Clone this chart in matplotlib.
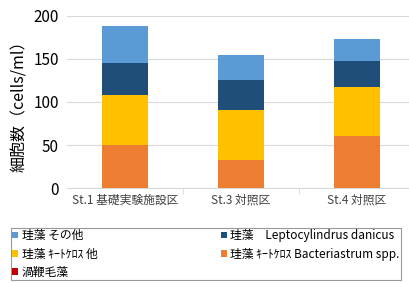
import matplotlib.pyplot as plt
import numpy as np

plt.rcParams['font.family'] = ['Noto Sans CJK JP', 'DejaVu Sans']

stations = ['St.1 基礎実験施設区', 'St.3 対照区', 'St.4 対照区']
bacteriastrum = [50, 33, 61]
chaeto_other = [58, 58, 56]
lepto = [37, 34, 30]
diatom_other = [43, 30, 26]
dino = [0, 0, 0]

fig = plt.figure(figsize=(4.09, 2.83), dpi=100)
ax = fig.add_axes([67 / 409, 1 - 188.3 / 283, 348 / 409, 172.6 / 283])

x = np.arange(len(stations))
w = 0.405
bottom = np.zeros(3)
series = [
    (bacteriastrum, '#ED7D31', '珪藻 ｷｰﾄｹﾛｽ Bacteriastrum spp.'),
    (chaeto_other, '#FFC000', '珪藻 ｷｰﾄｹﾛｽ 他'),
    (lepto, '#1F4E79', '珪藻　Leptocylindrus danicus'),
    (diatom_other, '#5B9BD5', '珪藻 その他'),
    (dino, '#C00000', '渦鞭毛藻'),
]
bars = {}
for vals, col, lab in series:
    bars[lab] = ax.bar(x, vals, w, bottom=bottom, color=col, label=lab, zorder=3)
    bottom += np.array(vals)

ax.set_xlim(-0.5, 2.5)
ax.set_ylim(0, 200)
ax.set_yticks([0, 50, 100, 150, 200])
ax.set_xticks(x)
ax.set_xticklabels(stations, fontsize=8.5, color='#404040')
ax.set_xticks([0.5, 1.5], minor=True)
ax.tick_params(axis='x', which='major', length=0, pad=4)
ax.tick_params(axis='x', which='minor', length=4, color='#d9d9d9')
ax.tick_params(axis='y', length=0, labelsize=11, pad=6)
ax.grid(axis='y', color='#d9d9d9', linewidth=0.8, zorder=0)
for s in ['top', 'right', 'left']:
    ax.spines[s].set_visible(False)
ax.spines['bottom'].set_color('#d9d9d9')
ax.set_ylabel('細胞数（cells/ml）', fontsize=11.5, labelpad=4)

order = ['珪藻 その他', '珪藻 ｷｰﾄｹﾛｽ 他', '渦鞭毛藻',
         '珪藻　Leptocylindrus danicus', '珪藻 ｷｰﾄｹﾛｽ Bacteriastrum spp.']
leg = fig.legend([bars[k] for k in order], order, loc='upper left',
                 bbox_to_anchor=(5 / 409, 1 - 278 / 283, 402 / 409, 56 / 283),
                 mode='expand', ncol=2, fontsize=8.5, frameon=True, fancybox=False,
                 handlelength=0.5, handleheight=0.5, handletextpad=0.3,
                 labelspacing=0.45, borderpad=0.12, columnspacing=1.0)
leg.get_frame().set_edgecolor('#7f7f7f')
leg.get_frame().set_linewidth(0.8)

fig.savefig('out.png', dpi=100)
